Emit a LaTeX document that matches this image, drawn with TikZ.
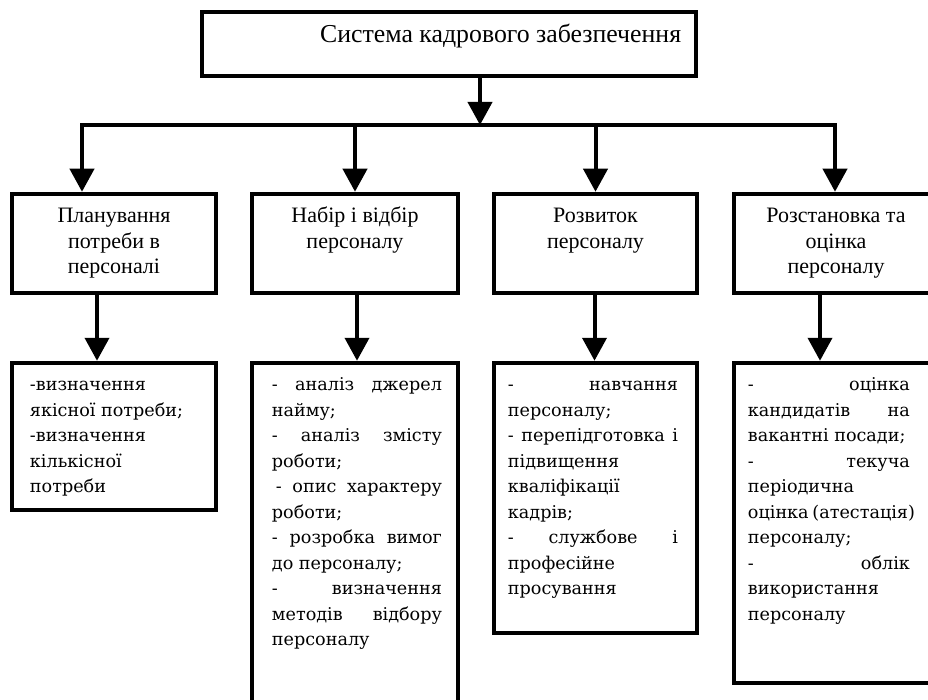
\documentclass[tikz,border=0pt]{standalone}
\usepackage{fontspec}
\setmainfont{Liberation Serif}
\newfontfamily\bfnt{DejaVu Serif}
\usetikzlibrary{arrows.meta}
\newcommand{\jl}[1]{\makebox[\linewidth][s]{#1}}
\begin{document}
\begin{tikzpicture}[x=1pt,y=-1pt,
  box/.style={draw, line width=4.5pt, rectangle, inner sep=0pt},
  arr/.style={line width=4pt, -{Triangle[width=24pt,length=23pt]}},
  mtext/.style={anchor=base, inner sep=0pt, font=\fontsize{22pt}{25.5pt}\selectfont},
  btext/.style={anchor=base west, inner sep=0pt, font=\bfnt\fontsize{17.6pt}{25.5pt}\selectfont}]
\useasboundingbox (0,0) rectangle (928,700);
\clip (0,0) rectangle (928,700);
\fill[white] (0,0) rectangle (928,700);

% top
\node[box, minimum width=494pt, minimum height=64pt] (top) at (449,44) {};
\node[inner sep=0pt, anchor=base west, font=\fontsize{25.8pt}{30pt}\selectfont] (toptext) at (320,43) {Система кадрового забезпечення};

% middle
\node[box, minimum width=204pt, minimum height=99pt] (m1) at (114,243.5) {};
\node[box, minimum width=206pt, minimum height=99pt] (m2) at (355,243.5) {};
\node[box, minimum width=203pt, minimum height=99pt] (m3) at (595.5,243.5) {};
\node[box, minimum width=204pt, minimum height=99pt] (m4) at (836,243.5) {};

\node[mtext] (mt1) at ([shift={(0,31)}]m1.north) {\parbox[t]{200pt}{\centering Планування\\потреби в\\персоналі}};
\node[mtext] (mt2) at ([shift={(0,31)}]m2.north) {\parbox[t]{200pt}{\centering Набір і відбір\\персоналу}};
\node[mtext] (mt3) at ([shift={(0,31)}]m3.north) {\parbox[t]{200pt}{\centering Розвиток\\персоналу}};
\node[mtext] (mt4) at ([shift={(0,31)}]m4.north) {\parbox[t]{200pt}{\centering Розстановка та\\оцінка\\персоналу}};

% bottom
\node[box, minimum width=204pt, minimum height=147pt] (b1) at (114,436.5) {};
\node[box, minimum width=206pt, minimum height=347pt] (b2) at (355,536.5) {};
\node[box, minimum width=203pt, minimum height=270pt] (b3) at (595.5,498) {};
\node[box, minimum width=204pt, minimum height=320pt] (b4) at (836,523) {};

\node[btext] (bt1) at ([shift={(20,30)}]b1.north west) {\parbox[t]{170pt}{%
-визначення\\
якісної потреби;\\
-визначення\\
кількісної\\
потреби}};
\node[btext] (bt2) at ([shift={(22,30)}]b2.north west) {\parbox[t]{170pt}{%
\jl{- аналіз джерел}\\
найму;\\
\jl{- аналіз змісту}\\
роботи;\\
\jl{\hspace*{4pt}- опис характеру}\\
роботи;\\
\jl{- розробка вимог}\\
до персоналу;\\
\jl{- визначення}\\
\jl{методів відбору}\\
персоналу}};
\node[btext] (bt3) at ([shift={(16,30)}]b3.north west) {\parbox[t]{170pt}{%
\jl{- навчання}\\
персоналу;\\
\jl{- перепідготовка і}\\
підвищення\\
кваліфікації\\
кадрів;\\
\jl{- службове і}\\
професійне\\
просування}};
\node[btext] (bt4) at ([shift={(16,30)}]b4.north west) {\parbox[t]{162pt}{%
\jl{- оцінка}\\
\jl{кандидатів на}\\
вакантні посади;\\
\jl{- текуча}\\
періодична\\
\jl{оцінка (атестація)}\\
персоналу;\\
\jl{- облік}\\
використання\\
персоналу}};

% connectors
\coordinate (j) at (480,125);
\coordinate (h1) at (82,125);
\coordinate (h4) at (835,125);
\draw[arr] (top.south -| j) -- (j);
\draw[line width=4.5pt, line cap=rect] (h1) -- (h4);
\draw[arr] (h1) -- (m1.north -| h1);
\draw[arr] (h1 -| m2) -- (m2.north);
\draw[arr] (h1 -| m3) -- (m3.north);
\draw[arr] (h4) -- (m4.north -| h4);

\draw[arr] ([xshift=-17pt]m1.south) -- ([xshift=-17pt]b1.north);
\draw[arr] ([xshift=2pt]m2.south) -- ([xshift=2pt]b2.north);
\draw[arr] ([xshift=-1pt]m3.south) -- ([xshift=-1pt]b3.north);
\draw[arr] ([xshift=-16pt]m4.south) -- ([xshift=-16pt]b4.north);
\end{tikzpicture}
\end{document}
